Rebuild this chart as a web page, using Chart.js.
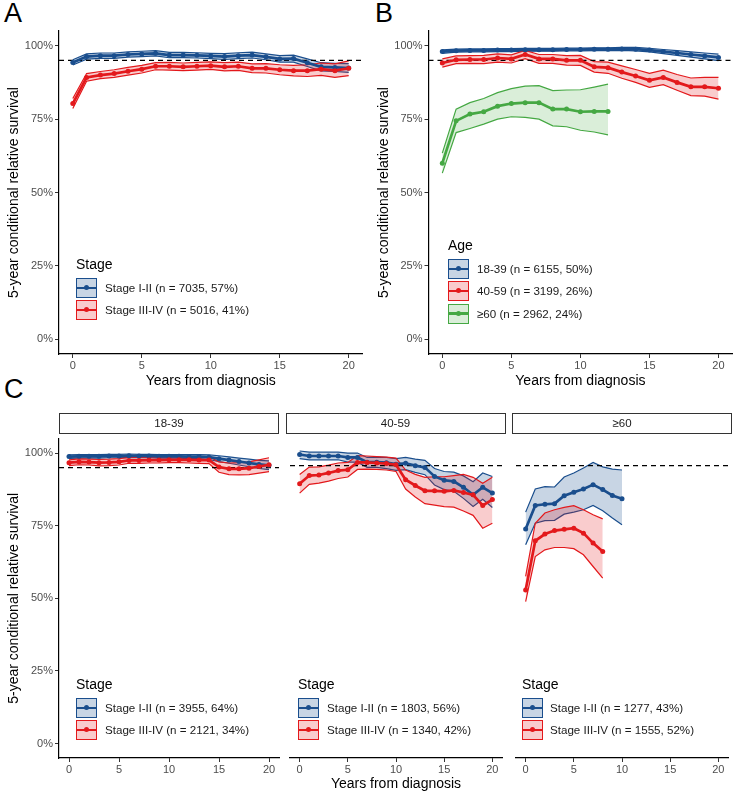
<!DOCTYPE html>
<html>
<head>
<meta charset="utf-8">
<script src="https://cdn.jsdelivr.net/npm/chart.js@4.4.1/dist/chart.umd.min.js"></script>
<style>
  body { margin: 0; background: #fff; font-family: "Liberation Sans", Arial, sans-serif; }
  #fig { position: relative; width: 740px; height: 800px; overflow: hidden; }
  canvas { position: absolute; }
  .letter { position: absolute; font-size: 27px; line-height: 27px; color: #000; }
  .strip { position: absolute; box-sizing: border-box; height: 21px; border: 1.3px solid #333;
           font-size: 11.5px; line-height: 19px; text-align: center; color: #1a1a1a; }
  .ltitle { position: absolute; font-size: 14px; line-height: 16px; color: #000; }
  .llabel { position: absolute; font-size: 11.6px; line-height: 14px; color: #1a1a1a; white-space: nowrap; }
  .key { position: absolute; box-sizing: border-box; width: 21px; height: 20px; border: 1.3px solid; }
  .key i { position: absolute; left: 0; right: 0; top: 7.5px; height: 2.5px; }
  .key b { position: absolute; left: 7px; top: 6px; width: 5px; height: 5px; border-radius: 50%; }
</style>
</head>
<body>
<div id="fig">
  <div class="letter" style="left:4px;top:0px">A</div>
  <div class="letter" style="left:375px;top:0px">B</div>
  <div class="letter" style="left:4px;top:376px">C</div>

  <canvas id="chartA" width="365" height="390" style="left:6px;top:0px"></canvas>
  <canvas id="chartB" width="365" height="390" style="left:376px;top:0px"></canvas>
  <canvas id="chartC1" width="279" height="363" style="left:6px;top:430px"></canvas>
  <canvas id="chartC2" width="220" height="363" style="left:285.5px;top:430px"></canvas>
  <canvas id="chartC3" width="220" height="363" style="left:512px;top:430px"></canvas>

  <div class="strip" style="left:59px;top:413px;width:220px">18-39</div>
  <div class="strip" style="left:285.5px;top:413px;width:220px">40-59</div>
  <div class="strip" style="left:512px;top:413px;width:220px">≥60</div>
</div>

<script>
// x positions (years from diagnosis)
const years = [0, 1, 2, 3, 4, 5, 6, 7, 8, 9, 10, 11, 12, 13, 14, 15, 16, 17, 18, 19, 20];
const years12 = [0, 1, 2, 3, 4, 5, 6, 7, 8, 9, 10, 11, 12];
const years10 = [0, 1, 2, 3, 4, 5, 6, 7, 8, 9, 10];
const years8 = [0, 1, 2, 3, 4, 5, 6, 7, 8];
const xTicks = [0, 5, 10, 15, 20];
const yTicks = [0, 25, 50, 75, 100];
const refLine = 95;

// Panel A - by stage
const aEarlyMean = [94.3, 96.3, 96.6, 96.6, 97.0, 97.2, 97.4, 96.8, 96.8, 96.7, 96.5, 96.3, 96.6, 96.8, 96.2, 95.5, 95.6, 94.2, 92.8, 92.6, 92.4];
const aEarlyHi   = [95.2, 97.2, 97.5, 97.5, 97.9, 98.1, 98.3, 97.7, 97.7, 97.6, 97.4, 97.3, 97.6, 97.8, 97.2, 96.6, 96.8, 95.5, 94.2, 94.0, 93.9];
const aEarlyLo   = [93.4, 95.4, 95.7, 95.7, 96.1, 96.3, 96.5, 95.9, 95.9, 95.8, 95.6, 95.3, 95.6, 95.8, 95.2, 94.4, 94.4, 92.9, 91.4, 91.2, 90.9];
const aLateMean  = [80.3, 89.2, 90.0, 90.5, 91.3, 92.0, 93.0, 93.0, 92.8, 93.0, 93.2, 92.8, 93.0, 92.3, 92.3, 91.8, 91.5, 91.5, 92.0, 91.5, 92.3];
const aLateHi    = [82.0, 90.5, 91.2, 91.8, 92.6, 93.3, 94.2, 94.3, 94.1, 94.3, 94.5, 94.2, 94.4, 93.8, 93.9, 93.5, 93.3, 93.5, 94.1, 93.8, 94.8];
const aLateLo    = [78.6, 87.9, 88.8, 89.2, 90.0, 90.7, 91.8, 91.7, 91.5, 91.7, 91.9, 91.4, 91.6, 90.8, 90.7, 90.1, 89.7, 89.5, 89.9, 89.2, 89.8];

// Panel B - by age
const bYoungMean = [98.0, 98.3, 98.4, 98.4, 98.5, 98.5, 98.6, 98.6, 98.6, 98.7, 98.7, 98.8, 98.8, 98.9, 98.8, 98.5, 98.0, 97.5, 97.0, 96.5, 96.0];
const bYoungHi   = [98.6, 98.8, 98.9, 98.9, 99.0, 99.0, 99.1, 99.1, 99.1, 99.2, 99.2, 99.3, 99.3, 99.4, 99.4, 99.1, 98.7, 98.3, 97.9, 97.5, 97.1];
const bYoungLo   = [97.4, 97.8, 97.9, 97.9, 98.0, 98.0, 98.1, 98.1, 98.1, 98.2, 98.2, 98.3, 98.3, 98.4, 98.2, 97.9, 97.3, 96.7, 96.1, 95.5, 94.9];
const bMidMean   = [94.1, 95.2, 95.3, 95.3, 95.8, 95.5, 97.0, 95.5, 95.5, 95.0, 95.0, 92.8, 92.5, 91.0, 89.7, 88.2, 89.2, 87.5, 86.0, 86.0, 85.5];
const bMidHi     = [95.5, 96.5, 96.6, 96.7, 97.2, 96.9, 98.4, 97.0, 97.0, 96.6, 96.7, 94.6, 94.4, 93.1, 91.9, 90.6, 91.7, 90.2, 89.0, 89.2, 89.2];
const bMidLo     = [92.7, 93.9, 94.0, 93.9, 94.4, 94.1, 95.6, 94.0, 94.0, 93.4, 93.3, 91.0, 90.6, 88.9, 87.5, 85.8, 86.7, 84.8, 83.0, 82.8, 81.8];
const bOldMean   = [60.0, 74.4, 76.7, 77.5, 79.4, 80.3, 80.6, 80.6, 78.4, 78.4, 77.5, 77.6, 77.6];
const bOldHi     = [63.4, 78.4, 80.6, 82.0, 84.0, 85.4, 86.2, 86.4, 84.7, 84.9, 85.0, 85.9, 86.9];
const bOldLo     = [56.6, 70.4, 71.8, 73.3, 75.0, 75.8, 75.6, 75.0, 72.7, 72.4, 71.2, 70.6, 69.6];

// Panel C - stage within age group
const c1EarlyMean = [98.8, 98.9, 98.9, 98.9, 99.0, 99.0, 99.1, 99.0, 99.0, 98.9, 98.9, 98.9, 98.8, 98.8, 98.6, 98.1, 97.6, 97.1, 96.6, 96.1, 95.8];
const c1EarlyHi   = [99.4, 99.5, 99.5, 99.5, 99.6, 99.6, 99.7, 99.6, 99.6, 99.5, 99.5, 99.5, 99.5, 99.5, 99.4, 99.1, 98.7, 98.3, 97.9, 97.5, 97.3];
const c1EarlyLo   = [98.2, 98.3, 98.3, 98.3, 98.4, 98.4, 98.5, 98.4, 98.4, 98.3, 98.3, 98.3, 98.1, 98.1, 97.8, 97.1, 96.5, 95.9, 95.3, 94.7, 94.3];
const c1LateMean  = [96.7, 97.0, 96.9, 96.7, 96.8, 97.0, 97.5, 97.5, 97.6, 97.6, 97.7, 97.7, 97.7, 97.6, 97.6, 95.2, 94.6, 94.6, 94.8, 95.4, 96.0];
const c1LateHi    = [97.7, 98.0, 97.9, 97.8, 97.9, 98.1, 98.5, 98.5, 98.6, 98.6, 98.7, 98.7, 98.8, 98.7, 98.8, 97.0, 96.6, 96.7, 97.0, 97.7, 98.4];
const c1LateLo    = [95.7, 96.0, 95.9, 95.6, 95.7, 95.9, 96.5, 96.5, 96.6, 96.6, 96.7, 96.7, 96.6, 96.5, 96.4, 93.4, 92.6, 92.5, 92.6, 93.1, 93.6];
const c2EarlyMean = [98.8, 98.3, 98.3, 98.3, 98.3, 97.8, 97.8, 96.2, 96.2, 96.0, 95.5, 95.8, 95.0, 94.4, 91.3, 90.0, 89.6, 87.6, 85.0, 87.6, 85.6];
const c2EarlyHi   = [100.0, 99.6, 99.6, 99.6, 99.6, 99.3, 99.3, 97.8, 97.9, 97.8, 97.4, 97.8, 97.2, 96.8, 94.0, 93.0, 92.8, 91.5, 89.5, 92.5, 91.3];
const c2EarlyLo   = [97.4, 97.0, 97.0, 97.0, 97.0, 96.2, 96.2, 94.4, 94.4, 94.0, 93.4, 93.6, 92.7, 91.9, 88.4, 86.8, 86.2, 83.8, 81.0, 83.5, 80.7];
const c2LateMean  = [88.8, 91.6, 91.8, 92.5, 93.3, 93.6, 96.1, 96.1, 95.9, 95.7, 95.3, 90.2, 88.2, 86.4, 86.4, 86.2, 86.5, 85.8, 85.0, 81.4, 83.4];
const c2LateHi    = [92.0, 94.5, 94.6, 95.2, 95.9, 96.1, 98.4, 98.3, 98.1, 97.9, 97.6, 93.5, 92.0, 91.0, 91.2, 91.2, 91.6, 92.0, 91.0, 89.0, 91.0];
const c2LateLo    = [85.6, 88.6, 89.0, 89.7, 90.6, 91.1, 93.7, 93.8, 93.7, 93.5, 93.0, 87.0, 84.3, 82.0, 81.5, 81.0, 80.8, 79.5, 78.0, 73.6, 75.3];
const c3EarlyMean = [73.3, 81.4, 81.8, 82.0, 84.7, 85.9, 87.0, 88.5, 86.8, 84.8, 83.7];
const c3EarlyHi   = [79.1, 87.0, 87.8, 87.7, 91.1, 92.5, 94.2, 96.1, 94.6, 93.8, 93.5];
const c3EarlyLo   = [67.9, 75.3, 76.2, 76.3, 78.4, 79.1, 79.9, 81.4, 79.6, 77.1, 74.8];
const c3LateMean  = [52.5, 69.3, 71.6, 72.8, 73.2, 73.6, 71.9, 68.5, 65.6];
const c3LateHi    = [57.1, 75.3, 78.8, 79.9, 80.7, 81.3, 79.9, 78.2, 76.8];
const c3LateLo    = [48.5, 63.9, 66.2, 67.0, 67.0, 66.6, 64.5, 60.5, 56.5];

const BLUE = '#1a4e8d', RED = '#e3191c', GREEN = '#45a843';
const BLUE_FILL = 'rgba(26,78,141,0.24)', RED_FILL = 'rgba(227,25,28,0.22)', GREEN_FILL = 'rgba(69,168,67,0.2)';

Chart.defaults.font.family = '"Liberation Sans", Arial, sans-serif';

const pts = (xs, ys) => xs.map((x, i) => ({ x, y: ys[i] }));

// ribbon (hi filled down to lo) + mean line with dots
function group(color, fill, xs, mean, lo, hi, z) {
    return [
        { data: pts(xs, hi), borderColor: color, borderWidth: 1.2, backgroundColor: fill, fill: '+1', pointRadius: 0, order: z },
        { data: pts(xs, lo), borderColor: color, borderWidth: 1.2, fill: false, pointRadius: 0, order: z },
        { data: pts(xs, mean), borderColor: color, borderWidth: 2.7, pointRadius: 2.5, pointBorderWidth: 0,
          pointBackgroundColor: color, fill: false, order: 0 }
    ];
}

const dashed = () => ({
    data: [{ x: -1, y: refLine }, { x: 21, y: refLine }],
    borderColor: '#000', borderWidth: 1.1, borderDash: [5, 4], pointRadius: 0, fill: false, order: 1
});

function makeChart(id, datasets, cfg) {
    new Chart(document.getElementById(id), {
        type: 'line',
        data: { datasets: [...datasets, dashed()] },
        options: {
            responsive: false,
            animation: false,
            events: [],
            layout: { padding: { left: 0, right: cfg.padRight, top: cfg.padTop, bottom: 0 } },
            elements: { line: { tension: 0 } },
            scales: {
                x: {
                    type: 'linear', min: -1, max: 21,
                    afterBuildTicks: s => { s.ticks = xTicks.map(v => ({ value: v })); },
                    afterFit: s => { s.height = cfg.xHeight; },
                    grid: { drawOnChartArea: false, tickLength: 4, color: '#333' },
                    border: { color: '#000', width: 1.2 },
                    ticks: { color: '#4d4d4d', font: { size: 11 }, padding: 1, maxRotation: 0 },
                    title: { display: cfg.xTitle, text: 'Years from diagnosis', color: '#000',
                             font: { size: 14 }, padding: { top: 3, bottom: 0 } }
                },
                y: {
                    display: cfg.showY, min: -5, max: 105,
                    afterBuildTicks: s => { s.ticks = yTicks.map(v => ({ value: v })); },
                    afterFit: s => { s.width = cfg.yWidth; },
                    grid: { drawOnChartArea: false, tickLength: 4, color: '#333' },
                    border: { color: '#000', width: 1.2 },
                    ticks: { color: '#4d4d4d', font: { size: 11 }, padding: 2, callback: v => v + '%' },
                    title: { display: true, text: '5-year conditional relative survival', color: '#000',
                             font: { size: 14 }, padding: 0 }
                }
            },
            plugins: { legend: { display: false }, tooltip: { enabled: false } }
        }
    });
}

makeChart('chartA', [
    ...group(RED, RED_FILL, years, aLateMean, aLateLo, aLateHi, 2),
    ...group(BLUE, BLUE_FILL, years, aEarlyMean, aEarlyLo, aEarlyHi, 3)
], { showY: true, xTitle: true, yWidth: 53, xHeight: 36, padRight: 8.5, padTop: 31 });

makeChart('chartB', [
    ...group(GREEN, GREEN_FILL, years12, bOldMean, bOldLo, bOldHi, 2),
    ...group(RED, RED_FILL, years, bMidMean, bMidLo, bMidHi, 3),
    ...group(BLUE, BLUE_FILL, years, bYoungMean, bYoungLo, bYoungHi, 4)
], { showY: true, xTitle: true, yWidth: 52.5, xHeight: 36, padRight: 8.7, padTop: 31 });

makeChart('chartC1', [
    ...group(RED, RED_FILL, years, c1LateMean, c1LateLo, c1LateHi, 2),
    ...group(BLUE, BLUE_FILL, years, c1EarlyMean, c1EarlyLo, c1EarlyHi, 3)
], { showY: true, xTitle: false, yWidth: 53, xHeight: 35, padRight: 6, padTop: 6.4 });

makeChart('chartC2', [
    ...group(RED, RED_FILL, years, c2LateMean, c2LateLo, c2LateHi, 2),
    ...group(BLUE, BLUE_FILL, years, c2EarlyMean, c2EarlyLo, c2EarlyHi, 3)
], { showY: false, xTitle: true, yWidth: 0, xHeight: 35, padRight: 0, padTop: 6.4 });

makeChart('chartC3', [
    ...group(RED, RED_FILL, years8, c3LateMean, c3LateLo, c3LateHi, 2),
    ...group(BLUE, BLUE_FILL, years10, c3EarlyMean, c3EarlyLo, c3EarlyHi, 3)
], { showY: false, xTitle: false, yWidth: 0, xHeight: 35, padRight: 0, padTop: 6.4 });

// legends drawn inside the panels
const stageNames = ['Stage I-II', 'Stage III-IV'];
const stageCols = [[BLUE, BLUE_FILL], [RED, RED_FILL]];
const ageNames = ['18-39', '40-59', '≥60'];
const ageCols = [[BLUE, BLUE_FILL], [RED, RED_FILL], [GREEN, GREEN_FILL]];

function legend(x, top, title, labels, cols, textX) {
    const fig = document.getElementById('fig');
    const t = document.createElement('div');
    t.className = 'ltitle';
    t.style.left = x + 'px';
    t.style.top = (top - 8) + 'px';
    t.textContent = title;
    fig.appendChild(t);
    labels.forEach((lab, i) => {
        const y = top + 14 + i * 22.3;
        const k = document.createElement('div');
        k.className = 'key';
        k.style.left = x + 'px';
        k.style.top = y + 'px';
        k.style.borderColor = cols[i][0];
        k.style.background = cols[i][1];
        k.innerHTML = `<i style="background:${cols[i][0]}"></i><b style="background:${cols[i][0]}"></b>`;
        fig.appendChild(k);
        const l = document.createElement('div');
        l.className = 'llabel';
        l.style.left = textX + 'px';
        l.style.top = (y + 3) + 'px';
        l.textContent = lab;
        fig.appendChild(l);
    });
}

legend(76, 264, 'Stage', [stageNames[0] + ' (n = 7035, 57%)', stageNames[1] + ' (n = 5016, 41%)'], stageCols, 105);
legend(448, 245, 'Age', [ageNames[0] + ' (n = 6155, 50%)', ageNames[1] + ' (n = 3199, 26%)', ageNames[2] + ' (n = 2962, 24%)'], ageCols, 477);
legend(76, 684, 'Stage', [stageNames[0] + ' (n = 3955, 64%)', stageNames[1] + ' (n = 2121, 34%)'], stageCols, 105);
legend(298, 684, 'Stage', [stageNames[0] + ' (n = 1803, 56%)', stageNames[1] + ' (n = 1340, 42%)'], stageCols, 327);
legend(522, 684, 'Stage', [stageNames[0] + ' (n = 1277, 43%)', stageNames[1] + ' (n = 1555, 52%)'], stageCols, 550);
</script>
</body>
</html>
